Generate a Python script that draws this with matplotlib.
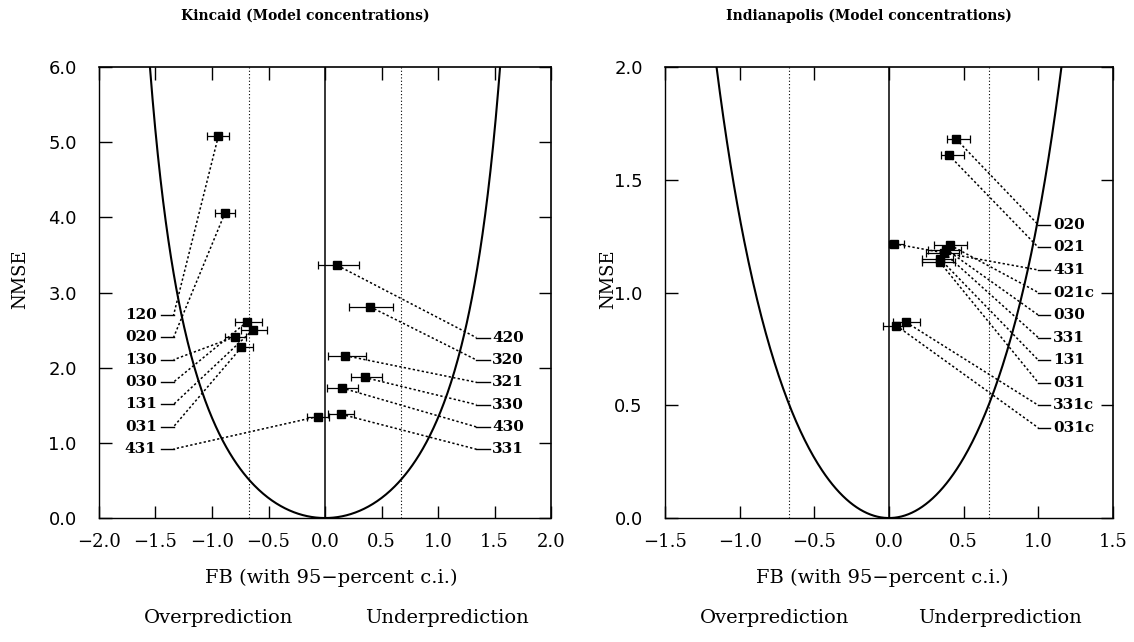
"""FB vs NMSE charts for Kincaid and Indianapolis model concentrations."""

import numpy as np
import matplotlib
matplotlib.use("Agg")
import matplotlib.pyplot as plt

# Kincaid: points with a label on the left side
kin_left_labels = ["120", "020", "130", "030", "131", "031", "431"]
kin_left_fb = [-0.944, -0.885, -0.80, -0.69, -0.64, -0.74, -0.065]
kin_left_nmse = [5.08, 4.06, 2.41, 2.61, 2.50, 2.27, 1.35]
kin_left_lo = [-1.04, -0.97, -0.885, -0.80, -0.74, -0.78, -0.16]
kin_left_hi = [-0.85, -0.80, -0.70, -0.56, -0.51, -0.64, 0.035]

# Kincaid: points with a label on the right side
kin_right_labels = ["420", "320", "321", "330", "430", "331"]
kin_right_fb = [0.11, 0.40, 0.18, 0.35, 0.15, 0.145]
kin_right_nmse = [3.36, 2.81, 2.16, 1.87, 1.73, 1.38]
kin_right_lo = [-0.06, 0.21, 0.03, 0.23, 0.015, 0.03]
kin_right_hi = [0.30, 0.60, 0.36, 0.50, 0.29, 0.26]

# Indianapolis (all labels on the right)
ind_labels = ["020", "021", "431", "021c", "030", "331", "131", "031", "331c", "031c"]
ind_fb = [0.45, 0.40, 0.036, 0.41, 0.385, 0.37, 0.34, 0.34, 0.115, 0.05]
ind_nmse = [1.68, 1.61, 1.216, 1.21, 1.19, 1.175, 1.15, 1.135, 0.868, 0.853]
ind_lo = [0.39, 0.35, 0.0, 0.30, 0.26, 0.25, 0.22, 0.22, 0.03, -0.04]
ind_hi = [0.54, 0.50, 0.10, 0.52, 0.48, 0.47, 0.43, 0.44, 0.21, 0.095]

SERIF = "DejaVu Serif"


def min_nmse_curve(ax, ymax):
    fb_edge = np.sqrt(4 * ymax / (4 + ymax))
    fb = np.linspace(-fb_edge, fb_edge, 400)
    ax.plot(fb, 4 * fb ** 2 / (4 - fb ** 2), color="black", lw=1.5, zorder=2)


def labelled_points(ax, labels, fb, nmse, lo, hi, side, x_text, x_dash, y_top, y_step):
    """Leader lines, error bars and markers; side is +1 (right) or -1 (left)."""
    for i, lab in enumerate(labels):
        y_lab = y_top - i * y_step
        ax.plot([fb[i], x_dash[0]], [nmse[i], y_lab], color="black", lw=1.1,
                ls=(0, (1.5, 1.5)), zorder=3)
        ax.plot(x_dash, [y_lab, y_lab], color="black", lw=1.0, zorder=3)
        ax.text(x_text, y_lab, lab, ha="left" if side > 0 else "right", va="center",
                fontsize=11, fontweight="bold", family=SERIF)
    fb = np.array(fb)
    xerr = [fb - np.array(lo), np.array(hi) - fb]
    ax.errorbar(fb, nmse, xerr=xerr, fmt="s", color="black", ms=6,
                elinewidth=0.9, capsize=3, capthick=0.9, zorder=4)


def style_axes(ax, xlim, ylim, xticks, yticks, dotted_x):
    ax.set_xlim(*xlim)
    ax.set_ylim(*ylim)
    ax.set_xticks(xticks)
    ax.set_yticks(yticks)
    ax.set_xticklabels([f"{v:.1f}".replace("-", "\u2212") for v in xticks],
                       family=SERIF, fontsize=13)
    ax.set_yticklabels([f"{v:.1f}" for v in yticks], fontsize=13)
    ax.tick_params(axis="both", direction="in", length=9, width=1,
                   top=True, right=True)
    ax.tick_params(axis="x", pad=11)
    ax.tick_params(axis="y", pad=16)
    ax.axvline(0, color="black", lw=1.1, zorder=2)
    for x in dotted_x:
        ax.axvline(x, color="black", lw=0.8, ls=(0, (1, 2)), zorder=1)
    for side in ["left", "bottom"]:
        ax.spines[side].set_linestyle((0, (1, 1)))
        ax.spines[side].set_linewidth(1.0)
    for side in ["top", "right"]:
        ax.spines[side].set_linewidth(1.2)


fig = plt.figure(figsize=(11.34, 6.42), dpi=100)
ax1 = fig.add_axes([0.0873, 0.1931, 0.3986, 0.7025])
ax2 = fig.add_axes([0.5864, 0.1931, 0.3951, 0.7025])

# Kincaid panel
style_axes(ax1, (-2, 2), (0, 6), np.arange(-2, 2.01, 0.5), np.arange(0, 6.01, 1.0),
           [-0.67, 0.67])
min_nmse_curve(ax1, 6.0)
labelled_points(ax1, kin_left_labels, kin_left_fb, kin_left_nmse, kin_left_lo,
                kin_left_hi, -1, -1.49, [-1.34, -1.45], 2.70, 0.297)
labelled_points(ax1, kin_right_labels, kin_right_fb, kin_right_nmse, kin_right_lo,
                kin_right_hi, 1, 1.48, [1.34, 1.46], 2.40, 0.297)

# Indianapolis panel
style_axes(ax2, (-1.5, 1.5), (0, 2), np.arange(-1.5, 1.51, 0.5), np.arange(0, 2.01, 0.5),
           [-0.67, 0.67])
min_nmse_curve(ax2, 2.0)
labelled_points(ax2, ind_labels, ind_fb, ind_nmse, ind_lo, ind_hi, 1, 1.10,
                [1.0, 1.08], 1.30, 0.10)

# Titles and axis texts
fig.text(0.269, 0.975, "Kincaid (Model concentrations)", ha="center", va="center",
         fontsize=10, fontweight="bold", family=SERIF)
fig.text(0.766, 0.975, "Indianapolis (Model concentrations)", ha="center", va="center",
         fontsize=10, fontweight="bold", family=SERIF)
for x in [0.018, 0.536]:
    fig.text(x, 0.565, "NMSE", rotation=90, ha="center", va="center",
             fontsize=13, family=SERIF)
for xc, xo, xu in [(0.292, 0.193, 0.394), (0.778, 0.683, 0.882)]:
    fig.text(xc, 0.100, "FB (with 95\u2212percent c.i.)", ha="center", va="center",
             fontsize=14, family=SERIF)
    fig.text(xo, 0.038, "Overprediction", ha="center", va="center",
             fontsize=14, family=SERIF)
    fig.text(xu, 0.038, "Underprediction", ha="center", va="center",
             fontsize=14, family=SERIF)

fig.savefig("out.png", dpi=100)
